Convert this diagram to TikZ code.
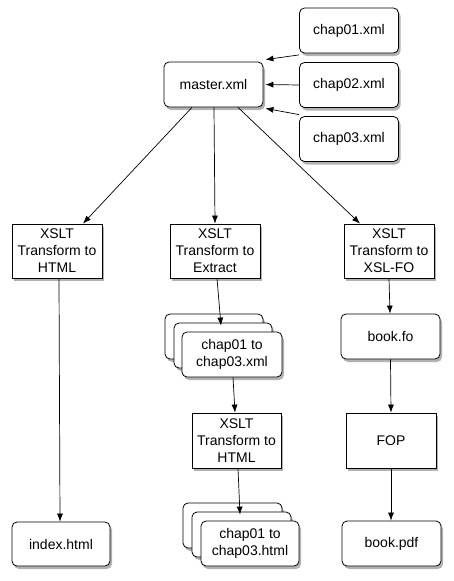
\documentclass[tikz,border=0pt]{standalone}
\usepackage{fontspec}
\setmainfont{Liberation Sans}
\usetikzlibrary{shadows,arrows.meta,positioning}
\begin{document}
\begin{tikzpicture}[x=1pt,y=-1pt,
  box/.style={draw=black, line width=0.8pt, fill=white, align=center,
    font=\fontsize{14}{17}\selectfont, inner sep=0pt,
    drop shadow={shadow xshift=2pt, shadow yshift=-3pt, fill=black, opacity=0.3}},
  file/.style={box, rounded corners=5pt, minimum width=99pt, minimum height=45pt},
  proc/.style={box, minimum width=90pt, minimum height=54pt},
  arr/.style={draw=black, line width=0.7pt, -{Latex[length=8pt,width=6pt]}}]
\useasboundingbox (0,0) rectangle (453,581);
% top
\node[file] (master) at (213.5,84.5) {master.xml};
\node[file] (c1) at (349,30.5) {chap01.xml};
\node[file] (c2) at (349,85) {chap02.xml};
\node[file] (c3) at (349,139) {chap03.xml};
% transforms
\node[proc] (x1) at (57,251) {XSLT\\Transform to\\HTML};
\node[proc] (x2) at (215,251) {XSLT\\Transform to\\Extract};
\node[proc] (x3) at (389,251) {XSLT\\Transform to\\XSL-FO};
% xml stack
\node[file, minimum width=98pt] (xa) at (214,336.5) {};
\node[file, minimum width=98pt] (xb) at (223,345.5) {};
\node[file, minimum width=100pt] (xc) at (232,354.5) {chap01 to\\chap03.xml};
\node[file] (fo) at (390.5,336.5) {book.fo};
\node[proc, minimum width=89pt, minimum height=55pt] (x4) at (236.5,440.5) {XSLT\\Transform to\\HTML};
\node[proc, minimum height=55pt] (fop) at (391,440.5) {FOP};
% html stack
\node[file] (ha) at (232.5,525.5) {};
\node[file] (hb) at (241.5,534.5) {};
\node[file, minimum width=98pt] (hc) at (250,543.5) {chap01 to\\chap03.html};
\node[file, minimum width=98pt, minimum height=44pt] (idx) at (61,544) {index.html};
\node[file] (pdf) at (391.5,543.5) {book.pdf};
% connectors
\draw[arr] ([yshift=-1.5pt]c1.south west) -- ([xshift=2pt,yshift=2pt]master.north east);
\draw[arr] (c2.west) -- ([xshift=2pt]master.east);
\draw[arr] ([yshift=1.5pt]c3.north west) -- ([xshift=2pt,yshift=-1pt]master.south east);
\draw[arr] ([xshift=-21.5pt]master.south) -- ([xshift=26pt]x1.north);
\draw[arr] ([xshift=0.5pt]master.south) -- (x2.north);
\draw[arr] ([xshift=24.5pt]master.south) -- ([xshift=-29pt]x3.north);
\draw[arr] ([xshift=2pt]x1.south) -- ([xshift=-1pt]idx.north);
\draw[arr] ([xshift=2pt]x2.south) -- ([xshift=-2pt,yshift=-3pt]xb.north);
\draw[arr] (x3.south) -- ([xshift=-0.5pt]fo.north);
\draw[arr] ([xshift=1pt]xc.south) -- ([xshift=-1.5pt]x4.north);
\draw[arr] (fo.south) -- (fop.north);
\draw[arr] ([xshift=1.5pt]x4.south) -- ([xshift=-1.5pt,yshift=-3pt]hb.north);
\draw[arr] (fop.south) -- ([xshift=-0.5pt]pdf.north);
\end{tikzpicture}
\end{document}
